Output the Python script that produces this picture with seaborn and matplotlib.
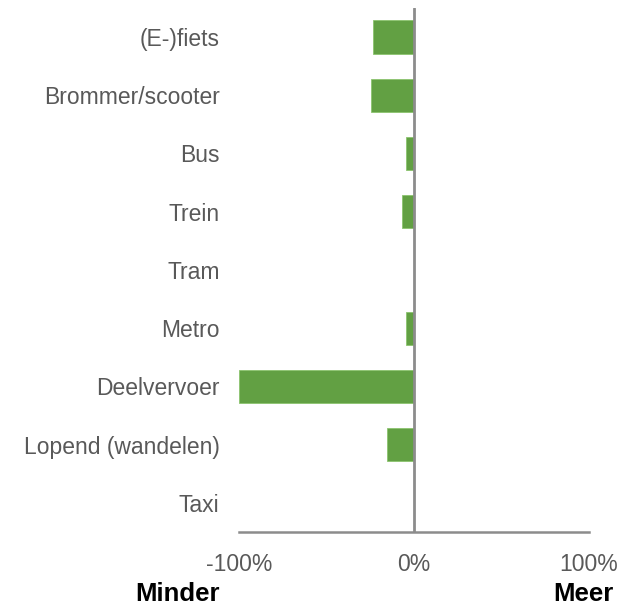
import matplotlib
matplotlib.use('Agg')
import matplotlib.pyplot as plt
import pandas as pd
import seaborn as sns

# Data (percent change)
categories = ['(E-)fiets', 'Brommer/scooter', 'Bus', 'Trein', 'Tram',
              'Metro', 'Deelvervoer', 'Lopend (wandelen)', 'Taxi']
values = [-23.5, -24.5, -4.5, -7, 0, -4.5, -100, -15.5, 0]
x_ticks = [-100, 0, 100]
x_ticklabels = ['-100%', '0%', '100%']

df = pd.DataFrame({'mode': categories, 'change': values})

sns.set_style('white')
plt.rcParams['font.family'] = ['Liberation Sans', 'DejaVu Sans']

fig = plt.figure(figsize=(6.28, 6.08), dpi=100)
ax = fig.add_axes([0.3806, 0.125, 0.5573, 0.862])

sns.barplot(data=df, y='mode', x='change', orient='h', color='#62A043',
            saturation=1, width=0.57, ax=ax, edgecolor='#8CC46E', linewidth=0.6)

ax.axvline(0, color='#8C8C8C', linewidth=2, zorder=3)
ax.set_xlim(-100, 100)
ax.set_xticks(x_ticks)
ax.set_xticklabels(x_ticklabels)
ax.set_xlabel('')
ax.set_ylabel('')

for side in ['left', 'top', 'right']:
  ax.spines[side].set_visible(False)
ax.spines['bottom'].set_color('#8C8C8C')
ax.spines['bottom'].set_linewidth(1.8)

ax.tick_params(axis='x', length=0, pad=15, labelsize=16.5, labelcolor='#595959')
ax.tick_params(axis='y', length=0, pad=14, labelsize=16.5, labelcolor='#595959')

# Minder / Meer labels under the axis
ax.text(-135, -0.118, 'Minder', transform=ax.get_xaxis_transform(), ha='center',
        va='center', fontsize=18.5, fontweight='bold', color='black')
ax.text(97, -0.118, 'Meer', transform=ax.get_xaxis_transform(), ha='center',
        va='center', fontsize=18.5, fontweight='bold', color='black')

fig.savefig('out.png', dpi=100)
